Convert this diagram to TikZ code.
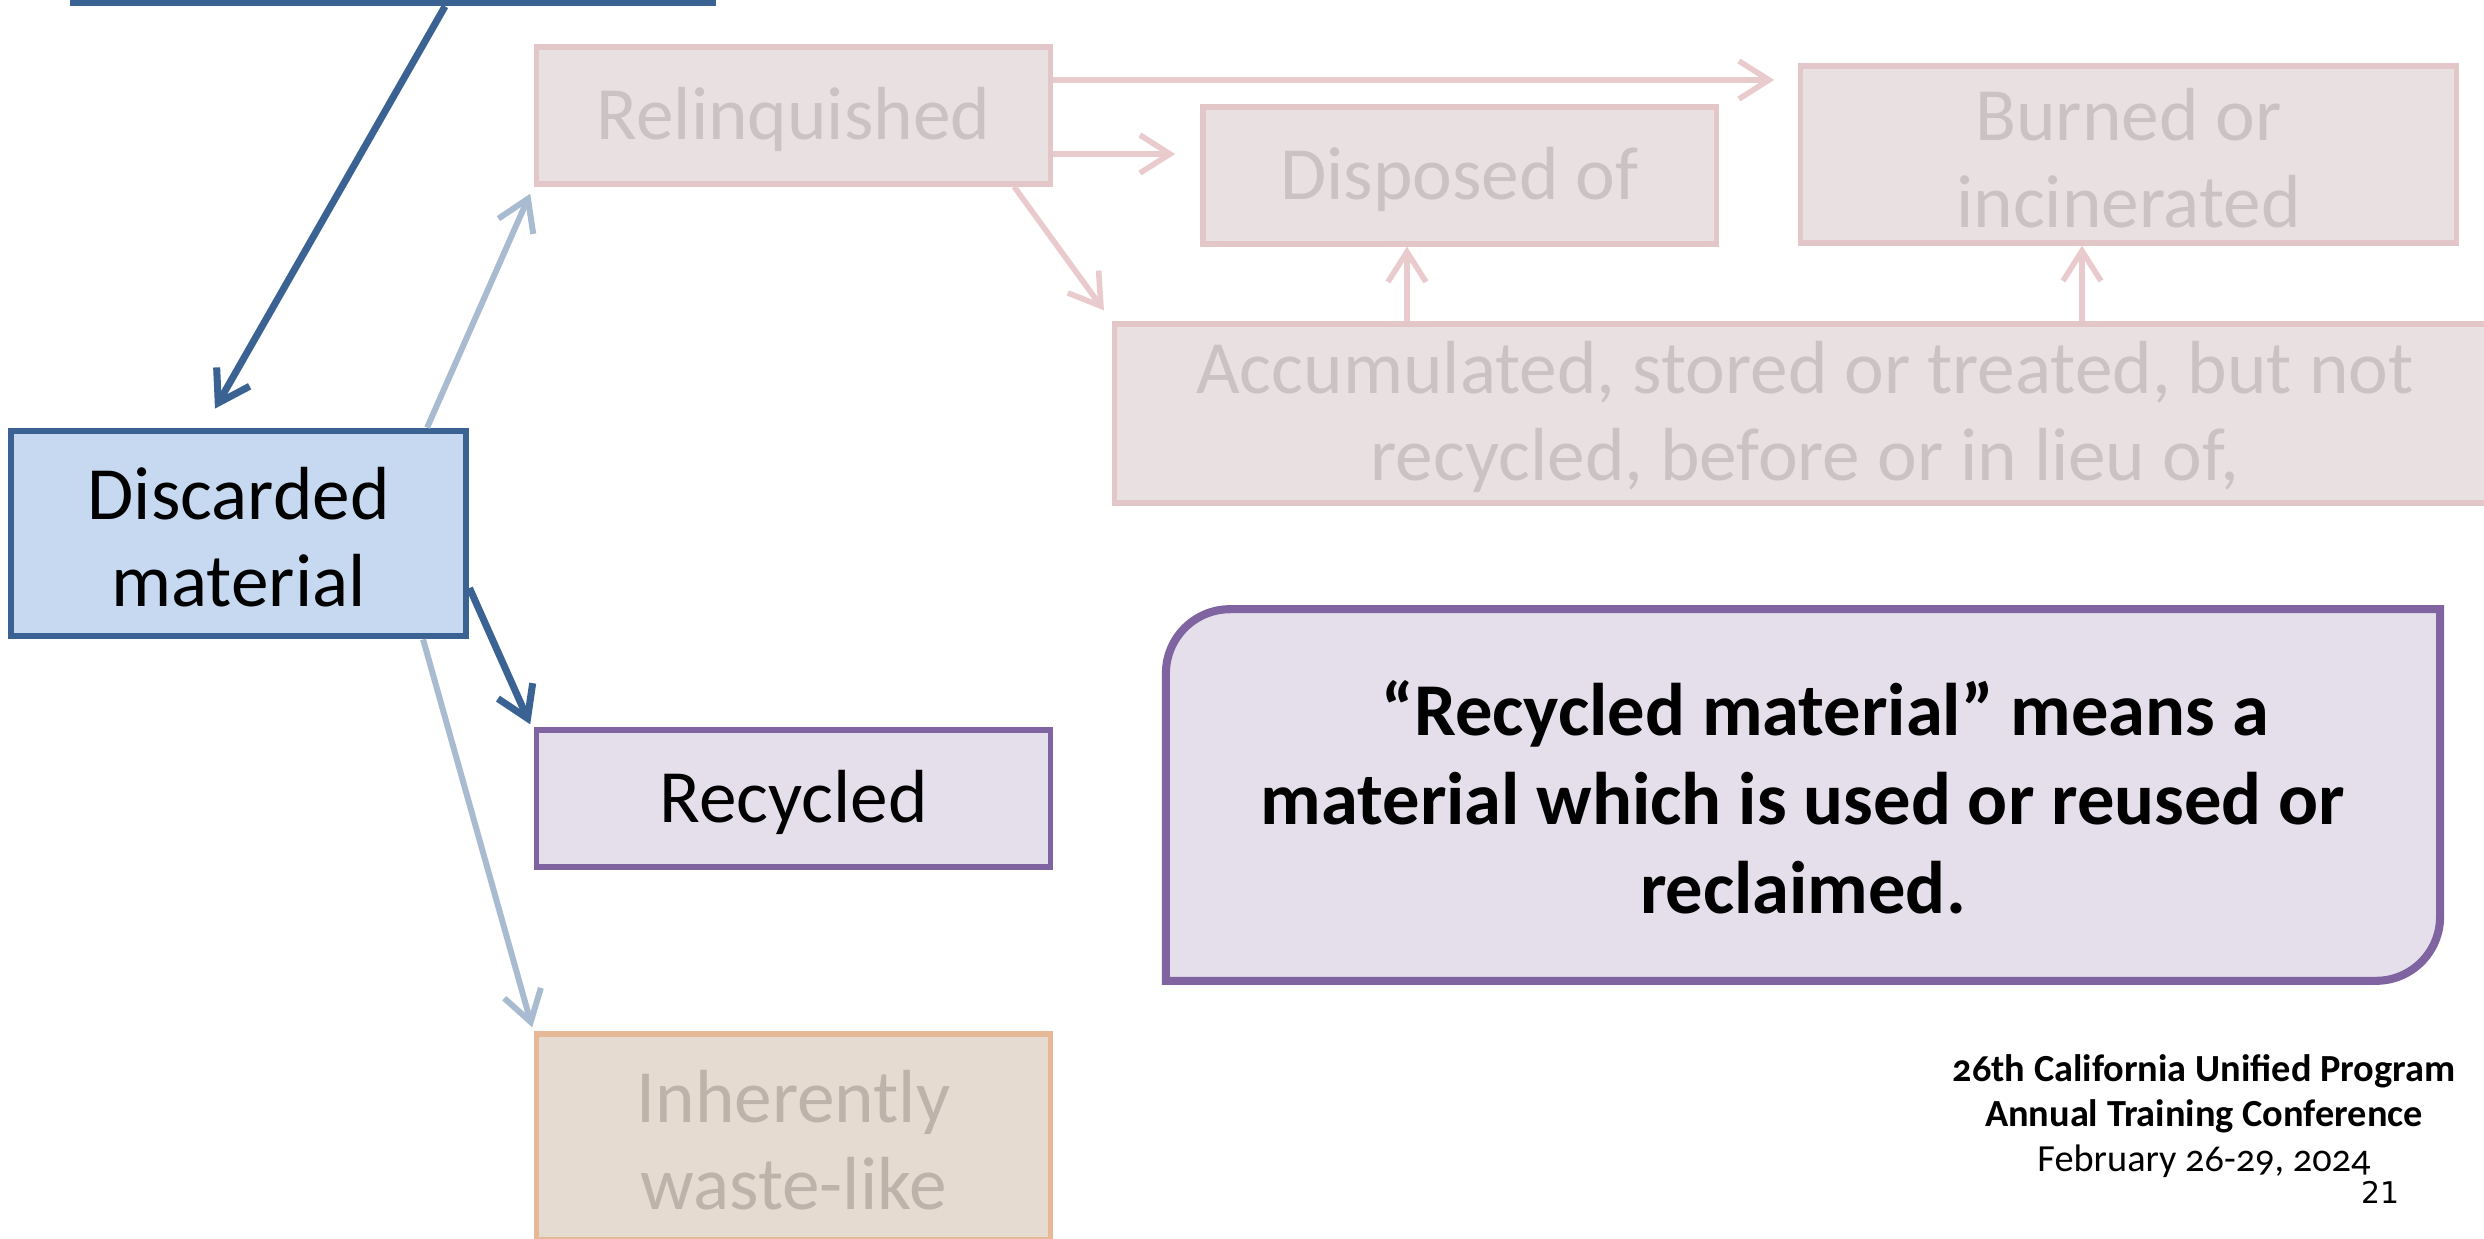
\documentclass[tikz,border=0pt]{standalone}
\usepackage{fontspec}
\setmainfont{Carlito}[Numbers=OldStyle]
\newfontfamily\numfont{DejaVu Sans}
\usetikzlibrary{arrows.meta}
\definecolor{dblue}{HTML}{3A6394}
\definecolor{lblue}{HTML}{C6D9F0}
\definecolor{fblue}{HTML}{A9BBD1}
\definecolor{purp}{HTML}{8064A2}
\definecolor{lpurp}{HTML}{E5DFEC}
\definecolor{pinkfill}{HTML}{E8E0E1}
\definecolor{pinkline}{HTML}{E3C6C8}
\definecolor{pinktext}{HTML}{CCC2C3}
\definecolor{pinkarr}{HTML}{E9CBCD}
\definecolor{peachline}{HTML}{E6B896}
\definecolor{peachfill}{HTML}{E6DBD0}
\definecolor{peachtext}{HTML}{BDB3AA}
\tikzset{
  box/.style={rectangle, inner sep=0pt, align=center, font=\fontsize{21.4pt}{24.8pt}\selectfont},
  bluebox/.style={box, draw=dblue, fill=lblue, line width=1.9pt},
  recbox/.style={box, draw=purp, fill=lpurp, line width=1.5pt},
  fadebox/.style={box, draw=pinkline, fill=pinkfill, text=pinktext, line width=1.5pt},
  peachbox/.style={box, draw=peachline, fill=peachfill, text=peachtext, line width=1.5pt},
  tipbarb/.style={-{Straight Barb[length=3mm,width=3.8mm]}},
  darkarrow/.style={tipbarb, draw=dblue, line width=2pt},
  fadearrow/.style={tipbarb, draw=fblue, line width=1.7pt},
  pinkarrow/.style={tipbarb, draw=pinkarr, line width=1.6pt},
  bigbox/.style={draw=purp, fill=lpurp, line width=2.3pt},
  lbl/.style={inner sep=0pt, align=center, font=\fontsize{21.4pt}{24.8pt}\selectfont},
}
\begin{document}
\begin{tikzpicture}[x=0.01cm, y=-0.01cm]
\useasboundingbox (0,0) rectangle (2484,1239);
\clip (0,0) rectangle (2484,1239);
% nodes
\node[bluebox, minimum width=6.38cm, minimum height=2.06cm] (top) at (393,-100) {};
\node[bluebox, minimum width=4.55cm, minimum height=2.05cm] (disc) at (238.5,533.5) {};
\node[lbl] (disct) at (238.5,537) {Discarded\\material};
\node[fadebox, minimum width=5.13cm, minimum height=1.37cm] (rel) at (793.5,115.5) {};
\node[lbl, text=pinktext] (relt) at (793.5,119) {Relinquished};
\node[fadebox, minimum width=5.13cm, minimum height=1.37cm] (disp) at (1459.5,175.5) {};
\node[lbl, text=pinktext] (dispt) at (1459.5,179) {Disposed of};
\node[fadebox, minimum width=6.55cm, minimum height=1.77cm] (burn) at (2128.5,154.5) {};
\node[lbl, text=pinktext] (burnt) at (2128.5,158) {Burned or\\incinerated};
\node[fadebox, minimum width=13.8cm, minimum height=1.79cm] (acc) at (1805,413.5) {};
\node[lbl, text=pinktext] (acct) at (1805,417) {Accumulated, stored or treated, but not\\recycled, before or in lieu of,};
\node[recbox, minimum width=5.13cm, minimum height=1.37cm] (rec) at (793.5,798.5) {};
\node[lbl] (rect) at (793.5,802) {Recycled};
\node[peachbox, minimum width=5.13cm, minimum height=2.06cm] (inh) at (793.5,1137) {};
\node[lbl, text=peachtext] (inht) at (793.5,1140) {Inherently\\waste-like};
% definition box
\node[inner sep=0pt, minimum width=12.72cm, minimum height=3.70cm] (def) at (1803,795) {};
\draw[bigbox] (def.south west) -- ([yshift=-6.4mm]def.north west)
  .. controls ([yshift=-2.87mm]def.north west) and ([xshift=2.87mm]def.north west) .. ([xshift=6.4mm]def.north west)
  -- (def.north east) -- ([yshift=6.4mm]def.south east)
  .. controls ([yshift=2.87mm]def.south east) and ([xshift=-2.87mm]def.south east) .. ([xshift=-6.4mm]def.south east)
  -- cycle;
\node[align=center, font=\bfseries\fontsize{21.2pt}{25.3pt}\selectfont] (deftext) at (1803,797)
  {\hspace*{0.6em}“Recycled material” means a\\material which is used or reused or\\reclaimed.};
% footer
\node[align=center, inner sep=0pt, font=\fontsize{10.9pt}{12.8pt}\selectfont] (foot) at (2204,1116)
  {\textbf{26th California Unified Program}\\\textbf{Annual Training Conference}\\February 26-29, 2024};
\node[inner sep=0pt, font=\numfont\fontsize{8.5pt}{10pt}\selectfont] (num) at (2380,1192) {21};
% connectors
\draw[darkarrow] ([xshift=5.2mm]top.south) -- ([xshift=-2.35mm,yshift=1.9mm]disc.north);
\draw[fadearrow] ([xshift=18.85mm]disc.north) -- ([xshift=-0.4mm,yshift=-0.7mm]rel.south west);
\draw[darkarrow] ([yshift=-5.45mm]disc.east) -- ([xshift=-0.4mm,yshift=0.3mm]rec.north west);
\draw[fadearrow] ([xshift=18.45mm]disc.south) -- ([xshift=-0.2mm,yshift=0.4mm]inh.north west);
\coordinate (r1) at ([yshift=3.55mm]rel.east);
\coordinate (r2) at ([yshift=-3.85mm]rel.east);
\draw[pinkarrow, shorten >=2.4mm] (r1) -- (r1 -| burn.west);
\draw[pinkarrow, shorten >=2.5mm] (r2) -- (r2 -| disp.west);
\draw[pinkarrow] ([xshift=22.05mm]rel.south) -- ([xshift=-0.8mm,yshift=1.1mm]acc.north west);
\coordinate (a1) at ([xshift=-5.25mm]disp.south);
\coordinate (a2) at ([xshift=-4.65mm]burn.south);
\draw[pinkarrow] (a1 |- acc.north) -- (a1);
\draw[pinkarrow] (a2 |- acc.north) -- (a2);
\end{tikzpicture}
\end{document}
